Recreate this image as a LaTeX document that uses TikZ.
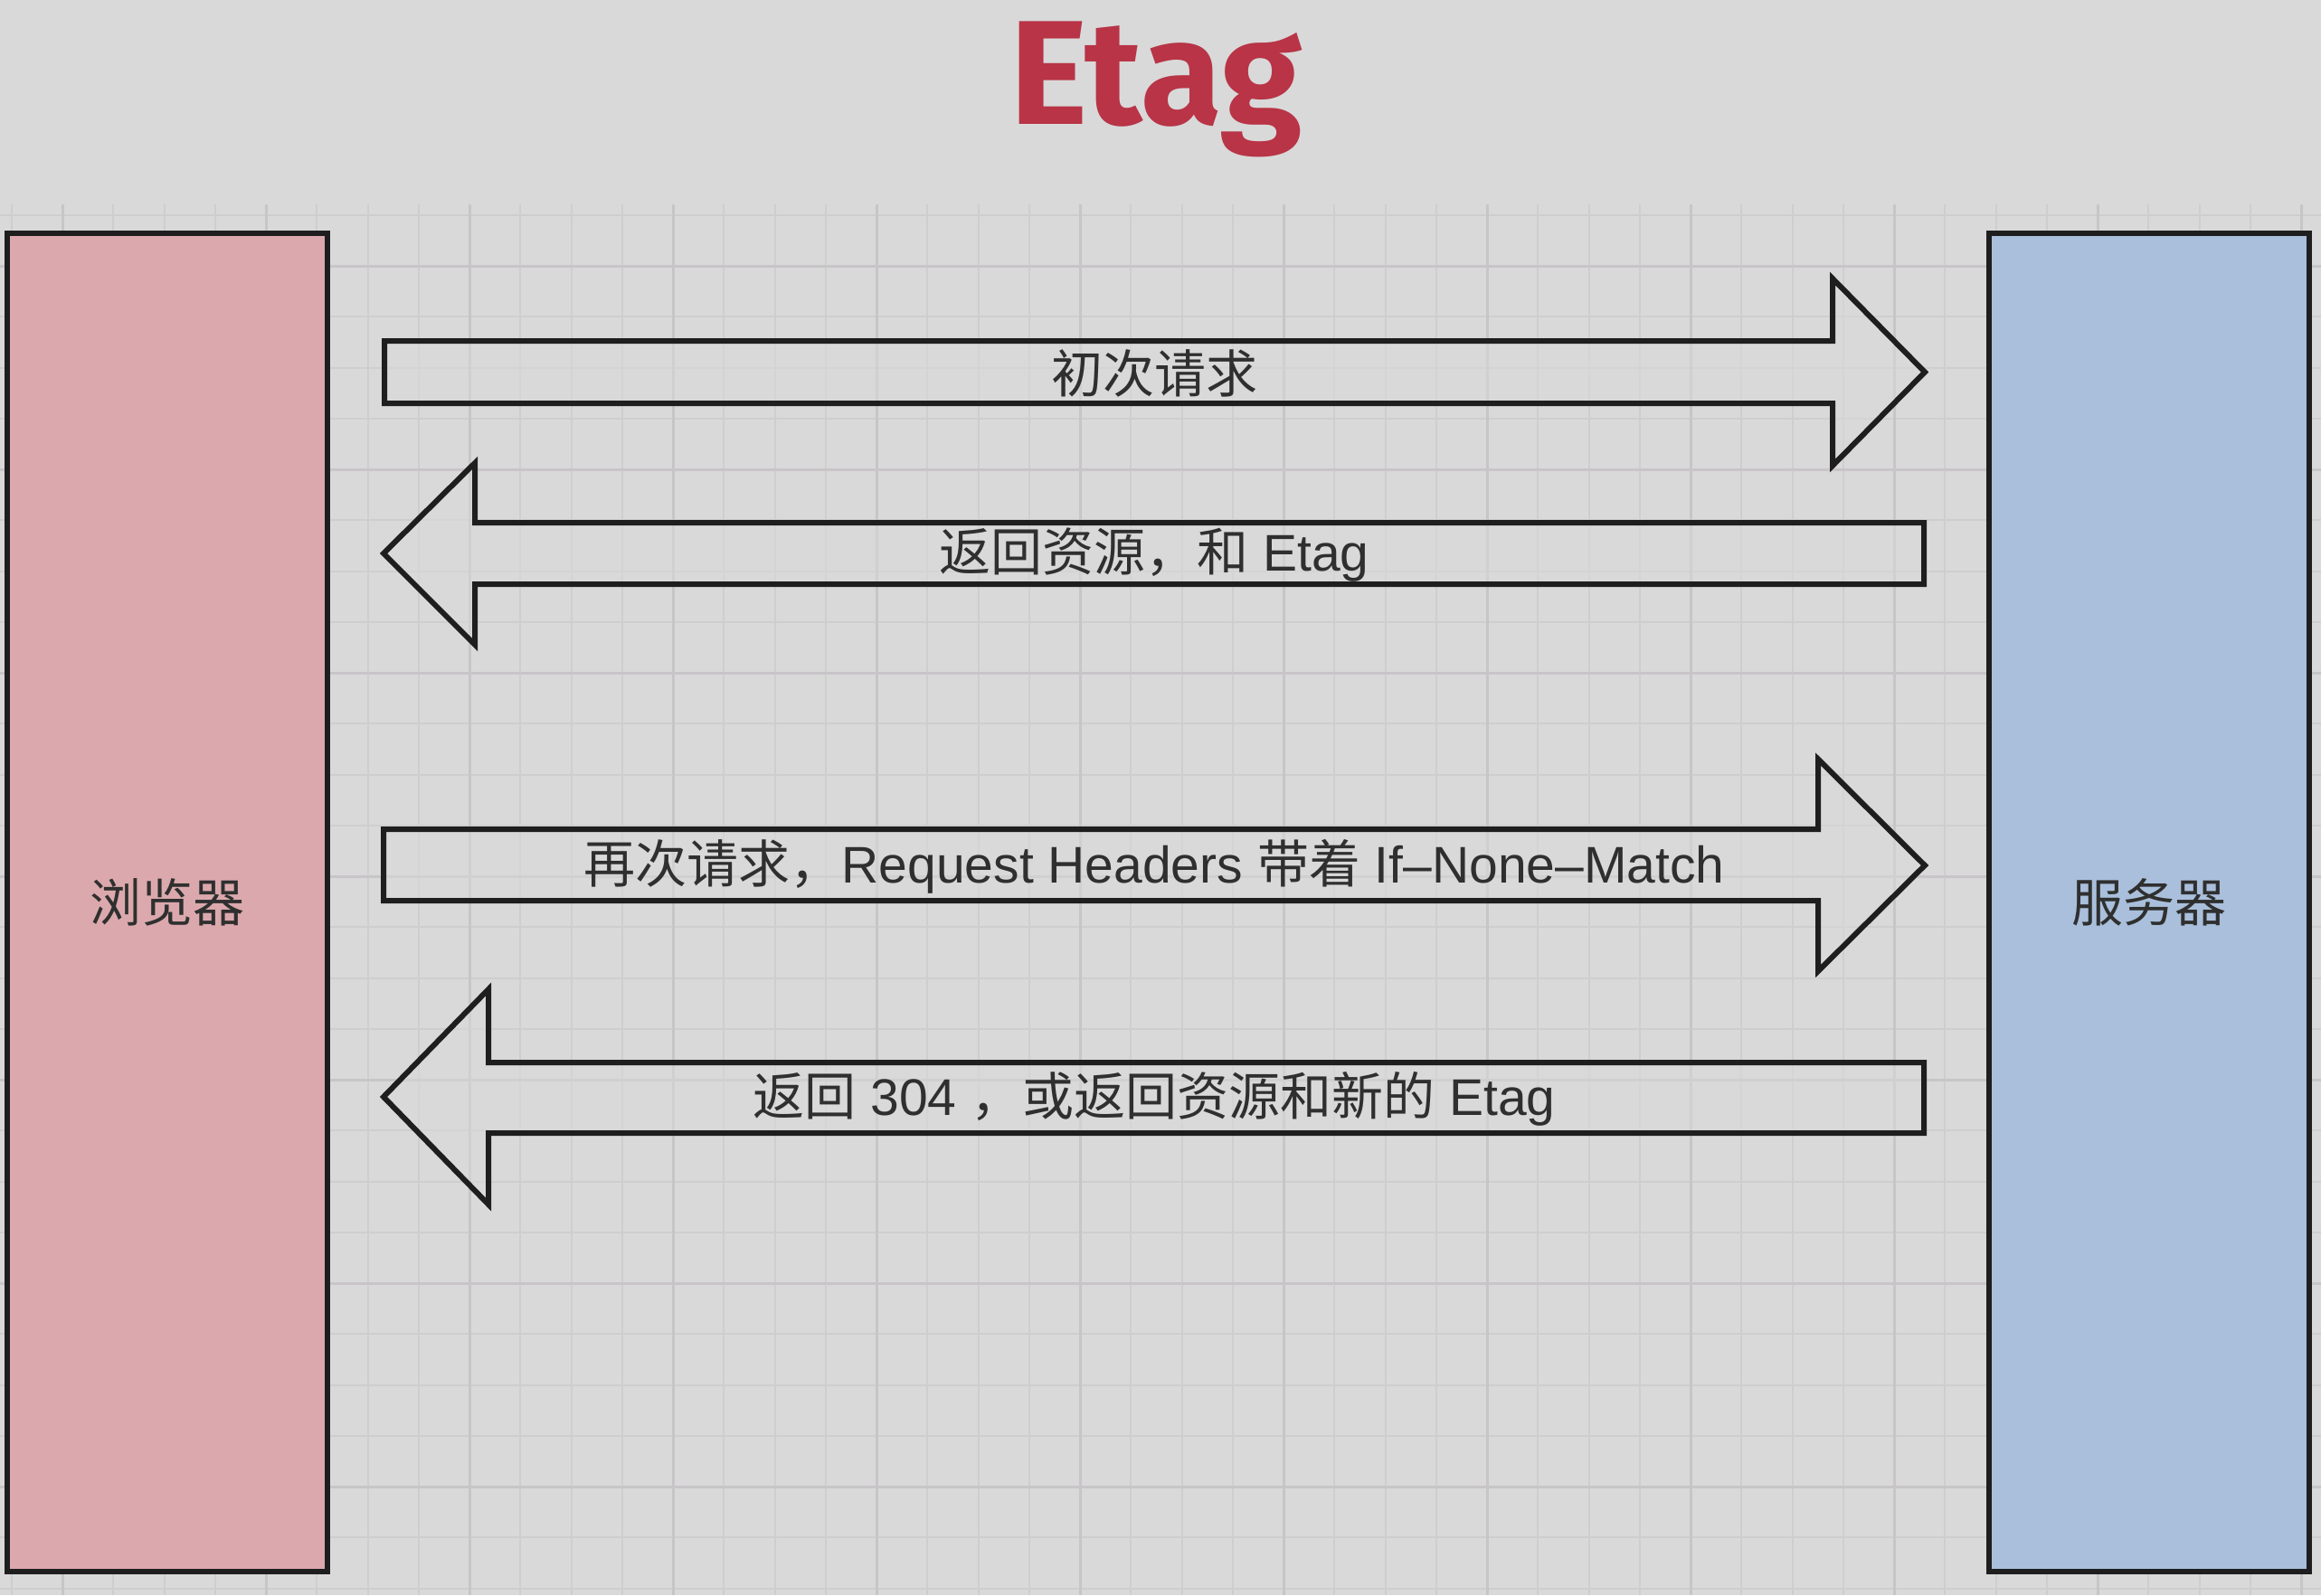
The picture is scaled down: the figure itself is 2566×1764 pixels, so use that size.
\documentclass[tikz,border=0pt]{standalone}
\usepackage{fontspec}
\setmainfont{Liberation Sans}
\newfontfamily\cjk{Noto Sans CJK SC}
\newfontfamily\titlefont{Fira Sans}
\definecolor{bgc}{HTML}{D9D9D9}
\definecolor{minorc}{HTML}{CECECE}
\definecolor{majorc}{HTML}{C8C5C8}
\definecolor{pinkc}{HTML}{DBA9AD}
\definecolor{bluec}{HTML}{A9BFDB}
\definecolor{titlec}{HTML}{B83446}
\definecolor{txtc}{HTML}{2F2F2F}
\definecolor{linec}{HTML}{1E1E1E}
\tikzset{
  minorline/.style={draw=minorc, line width=2pt},
  majorline/.style={draw=majorc, line width=3pt},
  endbox/.style={draw=linec, line width=6pt, rectangle, minimum width=354pt, minimum height=1480pt, inner sep=0pt, text=txtc, font=\fontsize{57}{68}\selectfont\cjk},
  blockarrow/.style={draw=linec, line width=6pt, fill=bgc, fill opacity=0.55, line join=miter},
  arrowlabel/.style={text=txtc, inner sep=0pt, font=\fontsize{57}{68}\selectfont},
}
\begin{document}
\begin{tikzpicture}[x=1pt,y=-1pt]
\useasboundingbox (0,0) rectangle (2566,1764);
\fill[bgc] (0,0) rectangle (2566,1764);
% grid
\foreach \i in {0,...,45} \draw[minorline] ({12.75+56.25*\i},226) -- ({12.75+56.25*\i},1764);
\foreach \j in {0,...,27} \draw[minorline] (0,{237.75+56.25*\j}) -- (2566,{237.75+56.25*\j});
\foreach \i in {0,...,11} \draw[majorline] ({69+225*\i},226) -- ({69+225*\i},1764);
\foreach \j in {0,...,6} \draw[majorline] (0,{294+225*\j}) -- (2566,{294+225*\j});
% title
\node[anchor=base, text=titlec, inner sep=0pt, font=\fontsize{164}{190}\selectfont\titlefont\bfseries] (title) at (1278,137) {Etag};
% boxes
\node[endbox, fill=pinkc] (browser) at (185,998) {浏览器};
\node[endbox, fill=bluec] (server) at (2376,998) {服务器};
% arrows
\draw[blockarrow] (425,377) -- (2026,377) -- (2026,308) -- (2128,411.5) -- (2026,515) -- (2026,446) -- (425,446) -- cycle;
\draw[blockarrow] (424,612) -- (525,512) -- (525,578) -- (2127,578) -- (2127,646) -- (525,646) -- (525,713) -- cycle;
\draw[blockarrow] (424,917) -- (2010,917) -- (2010,839.5) -- (2128,957) -- (2010,1074) -- (2010,996) -- (424,996) -- cycle;
\draw[blockarrow] (424,1213) -- (540,1094) -- (540,1175) -- (2127,1175) -- (2127,1253) -- (540,1253) -- (540,1332) -- cycle;
% labels
\node[arrowlabel] (l1) at (1276,413) {\cjk 初次请求};
\node[arrowlabel] (l2) at (1276,614) {{\cjk 返回资源，和} Etag};
\node[arrowlabel] (l3) at (1276,958) {{\cjk 再次请求，}Request Headers {\cjk 带着} If–None–Match};
\node[arrowlabel] (l4) at (1276,1215) {{\cjk 返回} 304 {\cjk ，或返回资源和新的} Etag};
\end{tikzpicture}
\end{document}
